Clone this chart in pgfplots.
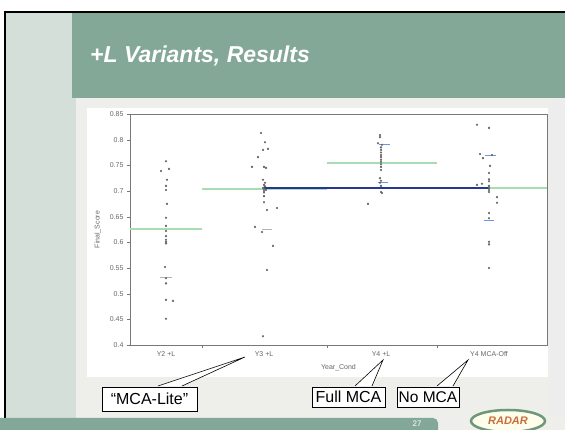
\documentclass[border=0pt]{standalone}
\usepackage{pgfplots}
\pgfplotsset{compat=1.18}
\usepackage{fontspec}
\setmainfont{Liberation Sans}
\definecolor{hdrgreen}{RGB}{132,168,152}
\definecolor{strip}{RGB}{212,223,217}
\definecolor{slidebody}{RGB}{238,238,234}
\definecolor{meangreen}{RGB}{168,220,178}
\definecolor{meanblue}{RGB}{40,55,150}
\definecolor{qblue}{RGB}{110,150,225}
\definecolor{logoorange}{RGB}{200,110,60}
\definecolor{logogreen}{RGB}{110,150,120}
\definecolor{axgray}{RGB}{120,120,120}

\pgfplotstableread{
x y
166 0.758
161 0.739
169 0.743
167 0.722
166 0.710
166 0.702
167 0.675
166 0.648
166 0.632
166 0.622
166 0.612
166 0.605
166 0.601
166 0.598
165 0.552
166 0.530
166 0.520
166 0.488
173 0.486
166 0.451
}\yTwoL

\pgfplotstableread{
x y
261 0.813
265 0.795
263 0.780
268 0.782
258 0.766
252 0.747
264 0.747
266 0.745
263 0.722
265 0.716
264 0.712
265 0.709
263 0.706
264 0.704
266 0.702
264 0.700
264 0.697
264 0.690
264 0.678
277 0.667
267 0.663
255 0.630
262 0.620
273 0.593
267 0.546
263 0.417
}\yThreeL

\pgfplotstableread{
x y
380 0.809
380 0.805
378 0.793
382 0.790
381 0.785
381 0.780
381 0.775
381 0.770
381 0.766
381 0.761
381 0.757
381 0.752
381 0.747
381 0.741
380 0.725
381 0.720
380 0.716
381 0.710
381 0.698
382 0.696
368 0.675
}\yFourL

\pgfplotstableread{
x y
477 0.829
489 0.823
480 0.772
483 0.764
492 0.770
490 0.749
489 0.735
489 0.723
489 0.719
482 0.714
477 0.712
489 0.710
489 0.706
489 0.702
489 0.698
497 0.688
497 0.677
489 0.657
489 0.647
489 0.601
489 0.596
489 0.550
}\yFourOff

\begin{document}
\begin{tikzpicture}[x=1pt,y=1pt]
\useasboundingbox (0,0) rectangle (565,430);
\clip (0,0) rectangle (565,430);
\fill[white] (0,0) rectangle (565,430);
\fill[slidebody] (5,0) rectangle (565,418);
\fill[strip] (5,0) rectangle (76,418);
\fill[hdrgreen] (72,332) rectangle (565,418);
\fill[gray!14] (550,14) rectangle (565,330);
\draw[black, line width=1.5] (5,-2) -- (5,418) -- (567,418);
\node[anchor=base west, text=white, inner sep=0, font=\fontsize{23}{27}\selectfont\bfseries\itshape] at (90,367) {+L Variants, Results};
\fill[white] (87,53) rectangle (548,322);
% footer
\fill[hdrgreen, rounded corners=5] (-5,-8) rectangle (438,12);
\node[text=white, font=\fontsize{8}{9}\selectfont] at (417,6) {27};
\draw[logogreen, line width=2.5, fill=white!92!yellow] (508,9) ellipse (37 and 11);
\node[text=logoorange, font=\bfseries\itshape\fontsize{11}{12}\selectfont] at (508,9) {RADAR};

\begin{axis}[
  at={(130pt,85pt)}, anchor=south west,
  scale only axis, width=417pt, height=231pt,
  xmin=130, xmax=547, ymin=0.4, ymax=0.85,
  axis line style={draw=axgray, line width=0.9pt},
  tick pos=left, tick align=outside, major tick length=3pt,
  ytick={0.4,0.45,0.5,0.55,0.6,0.65,0.7,0.75,0.8,0.85},
  yticklabels={0.4,0.45,0.5,0.55,0.6,0.65,0.7,0.75,0.8,0.85},
  ytick style={draw=axgray},
  xtick={166,264,381,489},
  xticklabels={Y2 +L, Y3 +L, Y4 +L, Y4 MCA-Off},
  xtick style={draw=none},
  extra x ticks={202,327,437},
  extra x tick labels={},
  extra x tick style={xtick style={draw=axgray}},
  tick label style={font=\fontsize{7}{8}\selectfont, text=black!60},
  ylabel={Final\_Score},
  ylabel style={at={(axis description cs:-0.077,0.5)}, anchor=center, font=\fontsize{7}{8}\selectfont, text=black!60},
  xlabel={Year\_Cond},
  xlabel style={at={(axis description cs:0.5,-0.1)}, anchor=center, font=\fontsize{7}{8}\selectfont, text=black!60},
]
\addplot[meangreen, line width=2pt] coordinates {(130,0.626) (202,0.626)};
\addplot[meangreen, line width=2pt] coordinates {(202,0.704) (327,0.704)};
\addplot[meangreen, line width=2pt] coordinates {(327,0.7546) (437,0.7546)};
\addplot[meangreen, line width=2pt] coordinates {(437,0.706) (547,0.706)};
\addplot[meanblue, line width=2pt] coordinates {(264,0.7065) (489,0.7065)};
\addplot[qblue, line width=0.8pt] coordinates {(379,0.790) (390,0.790)};
\addplot[qblue, line width=0.8pt] coordinates {(378,0.717) (388,0.717)};
\addplot[qblue, line width=0.8pt] coordinates {(485,0.770) (496,0.770)};
\addplot[qblue, line width=0.8pt] coordinates {(484,0.643) (494,0.643)};
\addplot[gray!60, line width=0.6pt] coordinates {(160,0.531) (172,0.531)};
\addplot[gray!60, line width=0.6pt] coordinates {(262,0.625) (272,0.625)};
\addplot[only marks, mark=*, mark size=0.9pt, color=black!60] table {\yTwoL};
\addplot[only marks, mark=*, mark size=0.9pt, color=black!60] table {\yThreeL};
\addplot[only marks, mark=*, mark size=0.9pt, color=black!60] table {\yFourL};
\addplot[only marks, mark=*, mark size=0.9pt, color=black!60] table {\yFourOff};
\end{axis}

% callouts
\filldraw[fill=white, draw=black, line width=0.6] (158,44) -- (245,73) -- (182,44);
\node[draw, fill=white, line width=0.6, minimum width=95, minimum height=24, inner sep=0, font=\fontsize{16}{18}\selectfont] at (149.5,31) {“MCA-Lite”};
\filldraw[fill=white, draw=black, line width=0.6] (355,44) -- (383,70) -- (372,44);
\node[draw, fill=white, line width=0.6, minimum width=73, minimum height=20, inner sep=0, font=\fontsize{16}{18}\selectfont] at (348.5,33) {Full MCA};
\filldraw[fill=white, draw=black, line width=0.6] (437,44) -- (468,70) -- (453,44);
\node[draw, fill=white, line width=0.6, minimum width=62, minimum height=20, inner sep=0, font=\fontsize{15.5}{18}\selectfont] at (428,33) {No MCA};
\end{tikzpicture}
\end{document}
